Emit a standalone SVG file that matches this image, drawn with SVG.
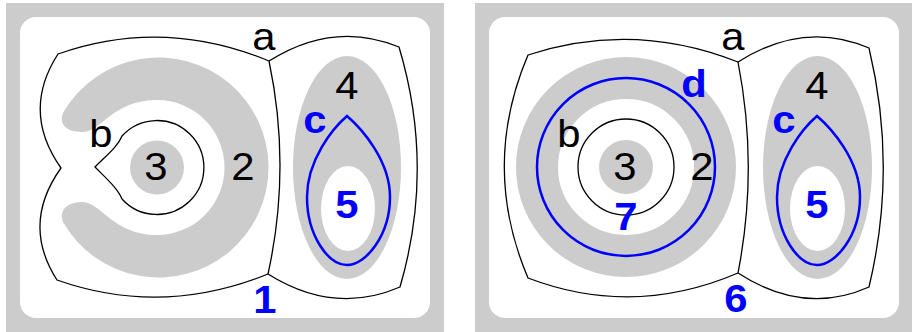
<svg xmlns="http://www.w3.org/2000/svg" width="917" height="332" viewBox="0 0 917 332">
<style>
.bg{fill:#cccccc}
.card{fill:#ffffff}
.edge{fill:none;stroke:#000000;stroke-width:1.3;stroke-linejoin:miter}
.grey{fill:#cccccc}
.white{fill:#ffffff}
.ring{fill:none;stroke:#cccccc;stroke-width:42}
.blue{fill:none;stroke:#0000ff;stroke-width:2.5}
.lbl{font-family:"Liberation Sans",Arial,Helvetica,sans-serif;font-size:38px;text-anchor:middle;fill:#000000}
.blbl{font-family:"Liberation Sans",Arial,Helvetica,sans-serif;font-size:38px;font-weight:bold;text-anchor:middle;fill:#0000ff}
</style>
<defs>
<path id="drop" d="M347,116 C333,128 307,160 307,197 C307,235 328,265 347,265 C366,265 390,235 390,197 C390,160 361,128 347,116 Z"/>
</defs>

<g id="panel1">
  <rect class="bg" x="6" y="3" width="438" height="329"/>
  <rect class="card" x="20" y="17" width="410" height="301" rx="16"/>
  <g id="p1-region4">
    <ellipse class="grey" cx="347" cy="167.5" rx="54" ry="111.5"/>
  </g>
  <g id="p1-region5">
    <ellipse class="white" cx="348" cy="208.5" rx="27" ry="42.5"/>
  </g>
  <g id="p1-region2">
    <path class="grey" d="M63,113 A110,110 0 1 1 63,222 C58,210 68,202 82,202 C102,202 112,235 157,235 A67.5,67.5 0 1 0 157,100 C112,100 102,132 82,132 C68,132 58,125 63,113 Z"/>
  </g>
  <g id="p1-region3">
    <circle class="grey" cx="157" cy="167.5" r="27"/>
  </g>
  <g id="p1-cell-left">
    <path class="edge" d="M58,54 Q163,17 269,61 Q291.5,167.5 268,274 Q162,317 57,280 Q21,224 61,168 Q21,111.5 58,54 Z"/>
  </g>
  <g id="p1-cell-right">
    <path class="edge" d="M269,61 Q334,20 399,47 Q435,167 400,287 Q334,315.5 268,274"/>
  </g>
  <g id="p1-curve-b">
    <path class="edge" d="M95,167 C108,154 118,146 122,136 A47,47 0 1 1 122,199 C118,189 108,180 95,167 Z"/>
  </g>
  <g id="p1-curve-c">
    <use href="#drop" class="blue"/>
  </g>
  <g id="p1-labels">
    <text class="lbl" transform="translate(264,50) scale(1.1,1)">a</text>
    <text class="lbl" transform="translate(101,147) scale(1.1,1)">b</text>
    <text class="lbl" transform="translate(156,180) scale(1.1,1)">3</text>
    <text class="lbl" transform="translate(243,180) scale(1.1,1)">2</text>
    <text class="lbl" transform="translate(347,99) scale(1.1,1)">4</text>
    <text class="blbl" transform="translate(315,133) scale(1.1,1)">c</text>
    <text class="blbl" transform="translate(347,218) scale(1.1,1)">5</text>
    <text class="blbl" transform="translate(265,313) scale(1.1,1)">1</text>
  </g>
</g>

<g id="panel2">
  <rect class="bg" x="475" y="3" width="437" height="329"/>
  <rect class="card" x="489" y="17" width="410" height="301" rx="16"/>
  <g id="p2-region4">
    <ellipse class="grey" cx="817.5" cy="167.5" rx="54.5" ry="111.5"/>
  </g>
  <g id="p2-region5">
    <ellipse class="white" cx="817.5" cy="208.5" rx="27.5" ry="42.5"/>
  </g>
  <g id="p2-region2">
    <circle class="ring" cx="626" cy="167" r="89"/>
  </g>
  <g id="p2-region3">
    <circle class="grey" cx="626" cy="167" r="27"/>
  </g>
  <g id="p2-cell-left">
    <path class="edge" d="M528,55 Q633,20.5 738,62 Q758.6,167.5 738,273 Q633,318 528,278 Q480.6,166.5 528,55 Z"/>
  </g>
  <g id="p2-cell-right">
    <path class="edge" d="M738,62 Q804,20 869,48 Q897.6,167.5 869,287 Q804,316 738,273"/>
  </g>
  <g id="p2-curve-b">
    <circle class="edge" cx="626" cy="167" r="48"/>
  </g>
  <g id="p2-curve-d">
    <circle class="blue" cx="626" cy="167" r="89"/>
  </g>
  <g id="p2-curve-c">
    <use href="#drop" class="blue" transform="translate(470,0)"/>
  </g>
  <g id="p2-labels">
    <text class="lbl" transform="translate(733,50) scale(1.1,1)">a</text>
    <text class="lbl" transform="translate(569,147) scale(1.1,1)">b</text>
    <text class="lbl" transform="translate(625,180) scale(1.1,1)">3</text>
    <text class="lbl" transform="translate(702,180) scale(1.1,1)">2</text>
    <text class="lbl" transform="translate(817,99) scale(1.1,1)">4</text>
    <text class="blbl" transform="translate(784,133) scale(1.1,1)">c</text>
    <text class="blbl" transform="translate(817,218) scale(1.1,1)">5</text>
    <text class="blbl" transform="translate(694,97) scale(1.1,1)">d</text>
    <text class="blbl" transform="translate(626,230) scale(1.1,1)">7</text>
    <text class="blbl" transform="translate(736,312) scale(1.1,1)">6</text>
  </g>
</g>
</svg>
